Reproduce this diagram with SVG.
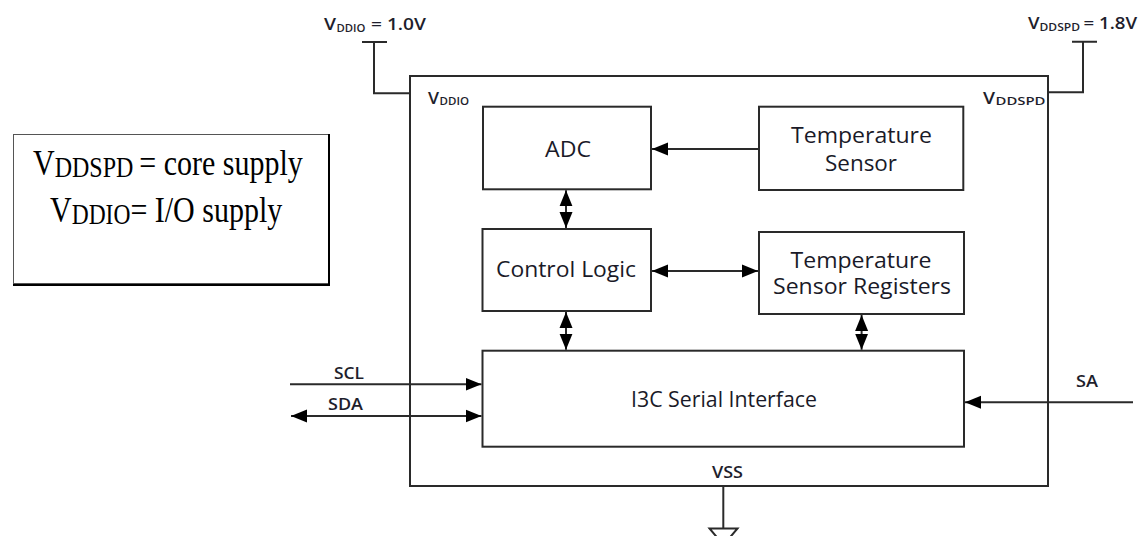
<svg xmlns="http://www.w3.org/2000/svg" width="1140" height="536" viewBox="0 0 1140 536">
<style>
.box{fill:#fff;stroke:#2a2a2a;stroke-width:2}
.ln{fill:none;stroke:#2a2a2a;stroke-width:2}
.t{font-family:"Open Sans",Lato,sans-serif;font-size:21px;fill:#1a1a28;text-anchor:middle}
.pin{font-family:"Open Sans",Lato,sans-serif;font-weight:600;fill:#1e1e2c}
.sig{font-family:"Open Sans",Lato,sans-serif;font-weight:600;font-size:15.5px;fill:#1e1e2c}
.leg{font-family:"Liberation Serif","Times New Roman",serif;fill:#000}
</style>
<defs>
<marker id="ah" markerWidth="16" markerHeight="14" refX="16" refY="7" orient="auto-start-reverse" markerUnits="userSpaceOnUse">
<path d="M0,0.5 L16,7 L0,13.5 Z" fill="#000"/>
</marker>
</defs>
<rect width="1140" height="536" fill="#fff"/>

<g id="legend">
<rect x="13.5" y="134.5" width="315" height="149" fill="#fff" stroke="#555" stroke-width="1"/>
<path d="M329,134 V285 H13" fill="none" stroke="#000" stroke-width="2"/>
<text class="leg" transform="translate(33,175) scale(1,1.22)" font-size="30">V<tspan font-size="24" dy="1.5">DDSPD </tspan><tspan dy="-1.5">= core supply</tspan></text>
<text class="leg" transform="translate(50,222) scale(1,1.22)" font-size="30">V<tspan font-size="23.5" dy="1.5">DDIO</tspan><tspan dy="-1.5">= I/O supply</tspan></text>
</g>

<g id="chip">
<rect class="box" x="410" y="76" width="638" height="410"/>
<text class="pin" x="428" y="103.5" font-size="16" font-weight="400" textLength="11" lengthAdjust="spacingAndGlyphs">V</text>
<text class="pin" x="439.5" y="105" font-size="11" font-weight="400" textLength="29.5" lengthAdjust="spacingAndGlyphs">DDIO</text>
<text class="pin" x="983" y="103.5" font-size="16" font-weight="400" textLength="12" lengthAdjust="spacingAndGlyphs">V</text>
<text class="pin" x="995.5" y="105" font-size="11" font-weight="400" textLength="50" lengthAdjust="spacingAndGlyphs">DDSPD</text>
<text class="sig" x="712" y="477.5" textLength="31" lengthAdjust="spacingAndGlyphs">VSS</text>
</g>

<g id="vddio-pin">
<path class="ln" d="M362,42 H387 M374,42 V93.3 H410"/>
<text class="pin" x="324" y="30" font-size="17" textLength="12" lengthAdjust="spacingAndGlyphs">V</text>
<text class="pin" x="336.5" y="32" font-size="10.5" textLength="29" lengthAdjust="spacingAndGlyphs">DDIO</text>
<text class="pin" x="371" y="30" font-size="17" textLength="55" lengthAdjust="spacingAndGlyphs">= 1.0V</text>
</g>

<g id="vddspd-pin">
<path class="ln" d="M1072,41.7 H1097 M1083,41.7 V92.3 H1048"/>
<text class="pin" x="1028" y="28.5" font-size="17" textLength="11.5" lengthAdjust="spacingAndGlyphs">V</text>
<text class="pin" x="1039.5" y="30.5" font-size="10.5" textLength="40.5" lengthAdjust="spacingAndGlyphs">DDSPD</text>
<text class="pin" x="1083.5" y="28.5" font-size="17" textLength="53.5" lengthAdjust="spacingAndGlyphs">= 1.8V</text>
</g>

<g id="adc">
<rect class="box" x="483" y="106.7" width="168" height="82.6"/>
<text class="t" x="568" y="156.7" textLength="46" lengthAdjust="spacingAndGlyphs">ADC</text>
</g>

<g id="temp-sensor">
<rect class="box" x="759" y="106.7" width="204.3" height="83.3"/>
<text class="t" x="861.5" y="143.3" textLength="141" lengthAdjust="spacingAndGlyphs">Temperature</text>
<text class="t" x="861" y="171" textLength="72" lengthAdjust="spacingAndGlyphs">Sensor</text>
</g>

<g id="control-logic">
<rect class="box" x="482.5" y="229" width="168.5" height="82"/>
<text class="t" x="566" y="277.3" textLength="140" lengthAdjust="spacingAndGlyphs">Control Logic</text>
</g>

<g id="temp-sensor-registers">
<rect class="box" x="759" y="232" width="205" height="82"/>
<text class="t" x="861" y="267.7" textLength="141" lengthAdjust="spacingAndGlyphs">Temperature</text>
<text class="t" x="862" y="294.3" textLength="178" lengthAdjust="spacingAndGlyphs">Sensor Registers</text>
</g>

<g id="i3c">
<rect class="box" x="482.5" y="350.7" width="481.5" height="96"/>
<text class="t" x="724" y="407" textLength="186" lengthAdjust="spacingAndGlyphs">I3C Serial Interface</text>
</g>

<g id="ground">
<path class="ln" d="M723.3,486 V528.5"/>
<path d="M709.5,528.5 H737.5 L723.5,545 Z" fill="#fff" stroke="#2a2a2a" stroke-width="2"/>
</g>

<g id="connectors">
<line class="ln" x1="759" y1="149" x2="652" y2="149" marker-end="url(#ah)"/>
<line class="ln" x1="566" y1="190.3" x2="566" y2="228" marker-start="url(#ah)" marker-end="url(#ah)"/>
<line class="ln" x1="652" y1="271" x2="758" y2="271" marker-start="url(#ah)" marker-end="url(#ah)"/>
<line class="ln" x1="566" y1="312" x2="566" y2="349.7" marker-start="url(#ah)" marker-end="url(#ah)"/>
<line class="ln" x1="861.6" y1="315" x2="861.6" y2="349.7" marker-start="url(#ah)" marker-end="url(#ah)"/>
<line class="ln" x1="290" y1="384.3" x2="481.5" y2="384.3" marker-end="url(#ah)"/>
<line class="ln" x1="291" y1="416" x2="481.5" y2="416" marker-start="url(#ah)" marker-end="url(#ah)"/>
<line class="ln" x1="1133" y1="402.3" x2="965" y2="402.3" marker-end="url(#ah)"/>
<text class="sig" x="334" y="379" textLength="30" lengthAdjust="spacingAndGlyphs">SCL</text>
<text class="sig" x="328" y="410" textLength="35" lengthAdjust="spacingAndGlyphs">SDA</text>
<text class="sig" x="1076" y="386.5" textLength="22" lengthAdjust="spacingAndGlyphs">SA</text>
</g>
</svg>
